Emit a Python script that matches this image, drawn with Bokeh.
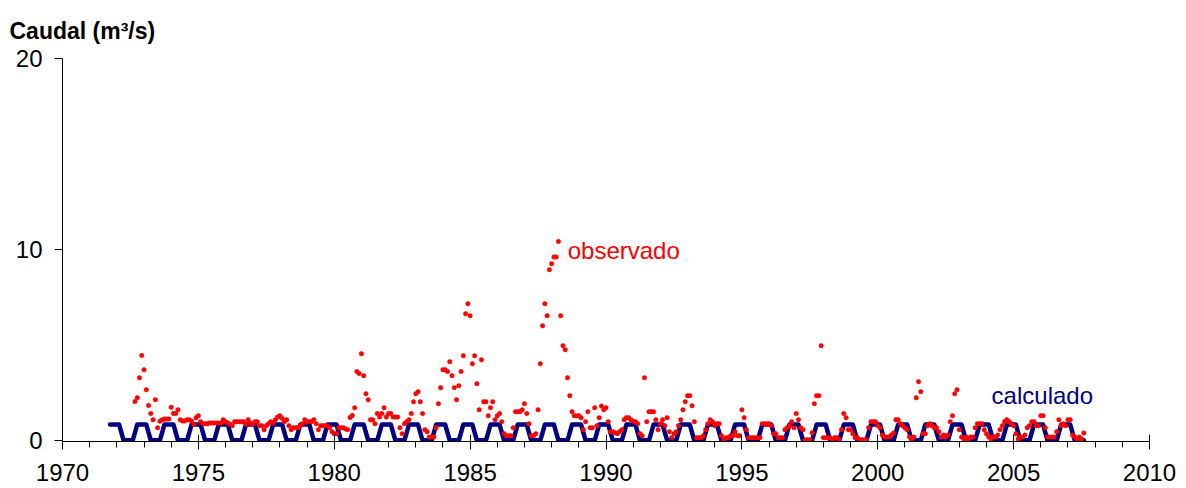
from bokeh.plotting import figure
from bokeh.models import Range1d, FixedTicker, Label
from bokeh.embed import file_html
from bokeh.resources import INLINE

# ---- data ----
# observed monthly flow (m3/s), starting September 1972
obs_start_year = 1972
obs_start_month = 9
observed = [
    2.03, 2.23, 3.28, 4.45, 3.70, 2.65, 1.83, 1.40, 1.08, 2.13, 0.66, 1.00,
    1.08, 1.12, 1.12, 1.12, 1.73, 1.41, 1.41, 1.60, 1.08, 1.01, 1.01, 1.08,
    1.08, 1.01, 0.84, 1.19, 1.29, 0.98, 0.87, 0.87, 0.87, 0.91, 0.91, 0.91,
    0.91, 0.91, 0.91, 1.08, 0.98, 0.91, 0.84, 0.77, 0.98, 0.98, 0.98, 0.98,
    0.98, 0.84, 1.08, 0.91, 0.84, 0.98, 0.98, 0.77, 0.77, 0.56, 0.77, 0.87,
    0.98, 0.91, 1.08, 1.22, 1.29, 1.15, 0.98, 1.08, 0.77, 0.56, 0.66, 0.66,
    0.66, 0.77, 0.87, 1.08, 0.98, 0.98, 0.98, 1.08, 0.87, 0.56, 0.77, 0.77,
    0.77, 0.77, 0.66, 0.45, 0.35, 0.35, 0.66, 0.66, 0.66, 0.60, 0.56, 1.20,
    1.30, 1.71, 3.60, 3.50, 4.54, 3.39, 2.44, 2.13, 1.08, 1.08, 0.87, 1.40,
    1.22, 1.40, 1.71, 1.22, 1.40, 1.40, 1.22, 1.22, 1.22, 0.66, 0.35, 0.87,
    0.98, 1.08, 1.40, 2.02, 2.44, 2.55, 2.02, 1.40, 0.56, 0.45, 0.17, 0.17,
    0.17, 0.66, 1.92, 2.76, 3.70, 3.70, 3.60, 4.12, 3.39, 2.76, 2.13, 2.86,
    3.60, 4.43, 6.63, 7.16, 6.53, 4.01, 4.43, 2.97, 1.60, 4.22, 2.02, 2.02,
    1.29, 1.71, 2.02, 1.08, 1.29, 1.40, 0.98, 0.35, 0.24, 0.24, 0.24, 0.66,
    1.50, 1.50, 1.50, 1.60, 1.92, 1.40, 0.87, 0.24, 0.24, 0.35, 1.60, 4.01,
    6.00, 7.16, 6.53, 8.94, 9.25, 9.60, 9.60, 10.42, 6.53, 4.96, 4.75, 3.28,
    2.34, 1.50, 1.29, 1.29, 1.29, 1.19, 0.56, 0.98, 1.50, 0.66, 0.66, 1.71,
    0.77, 1.19, 1.80, 1.60, 1.71, 0.98, 0.45, 0.45, 0.40, 0.35, 0.45, 0.56,
    1.08, 1.19, 1.19, 1.08, 1.00, 0.98, 0.87, 0.35, 0.24, 3.28, 0.98, 1.50,
    1.50, 1.50, 1.08, 0.56, 0.87, 1.08, 0.77, 1.19, 0.45, 0.14, 0.35, 0.45,
    0.77, 1.08, 1.60, 2.02, 2.34, 2.34, 1.81, 0.98, 0.14, 0.14, 0.14, 0.24,
    0.56, 0.87, 1.08, 0.98, 0.77, 0.87, 0.87, 0.24, 0.03, 0.14, 0.14, 0.24,
    0.24, 0.45, 0.24, 0.24, 1.60, 1.19, 0.56, 0.14, 0.14, 0.14, 0.14, 0.14,
    0.14, 0.87, 0.87, 0.87, 0.87, 0.77, 0.35, 0.35, 0.14, 0.14, 0.14, 0.56,
    0.66, 0.77, 0.98, 0.66, 1.40, 1.08, 0.66, 0.56, 0.03, 0.03, 0.03, 0.40,
    1.92, 2.34, 2.34, 4.96, 0.14, 0.14, 0.14, 0.14, 0.03, 0.14, 0.14, 0.03,
    0.56, 1.40, 1.19, 0.56, 0.56, 0.35, 0.14, 0.14, 0.03, 0.03, 0.03, 0.03,
    0.66, 0.98, 0.98, 0.98, 0.77, 0.66, 0.28, 0.17, 0.17, 0.17, 0.28, 0.38,
    1.08, 1.08, 0.87, 0.77, 0.66, 0.56, 0.17, 0.07, 0.17, 2.23, 3.07, 2.55,
    0.35, 0.35, 0.77, 0.87, 0.77, 0.66, 0.66, 0.45, 0.17, 0.28, 0.17, 0.28,
    0.98, 1.29, 2.44, 2.65, 0.56, 0.17, 0.07, 0.17, 0.07, 0.17, 0.17, 0.66,
    0.87, 0.87, 0.87, 0.56, 0.35, 0.17, 0.07, 0.17, 0.17, 0.28, 0.56, 0.77,
    0.98, 1.08, 0.98, 0.87, 0.77, 0.35, 0.07, 0.17, 0.17, 0.28, 0.66, 0.77,
    0.98, 0.98, 0.77, 0.77, 1.29, 1.29, 0.66, 0.17, 0.17, 0.17, 0.17, 0.45,
    1.08, 0.77, 0.87, 0.77, 1.08, 1.08, 0.28, 0.17, 0.07, 0.17, 0.07, 0.38,
]

# calculated flow: the same annual cycle every year (Jan..Dec), Oct 1971 - Aug 2007
calc_cycle = [0.83, 0.83, 0.40, 0.0, 0.0, 0.0, 0.0, 0.0, 0.40, 0.83, 0.83, 0.83]
calc_start = (1971, 10)
calc_end = (2007, 8)

x_major = [1970, 1975, 1980, 1985, 1990, 1995, 2000, 2005, 2010]
x_minor = list(range(1970, 2011))
y_major = [0, 10, 20]

# ---- derived series ----
obs_t = [obs_start_year + (obs_start_month - 1 + k) / 12 for k in range(len(observed))]
calc_t, calc_v = [], []
y, m = calc_start
while (y, m) <= calc_end:
    calc_t.append(y + (m - 1) / 12)
    calc_v.append(calc_cycle[m - 1])
    m += 1
    if m > 12:
        m = 1
        y += 1

FONT = "Liberation Sans"

p = figure(width=1180, height=488,
           x_range=Range1d(1970, 2010), y_range=Range1d(-0.06, 20),
           output_backend="svg", toolbar_location=None,
           title="Caudal (m\u00b3/s)",
           min_border_left=62, min_border_right=31,
           min_border_top=58, min_border_bottom=47)
p.background_fill_color = "white"
p.border_fill_color = "white"
p.outline_line_color = None
p.xgrid.grid_line_color = None
p.ygrid.grid_line_color = None

p.title.align = "left"
p.title.offset = -53
p.title.standoff = 30
p.title.text_font = FONT
p.title.text_font_style = "bold"
p.title.text_font_size = "23px"
p.title.text_color = "black"

p.line(calc_t, calc_v, line_color="#000080", line_width=4.5,
       line_join="round", line_cap="round")
p.scatter(obs_t, observed, size=4.5, fill_color="#FF0000", line_color="#FF0000",
          line_width=0.5)

xa = p.xaxis[0]
xa.ticker = FixedTicker(ticks=x_major, minor_ticks=x_minor)
xa.axis_line_color = "black"
xa.major_tick_line_color = "black"
xa.minor_tick_line_color = "black"
xa.major_tick_in = 7
xa.major_tick_out = 8
xa.minor_tick_in = 0
xa.minor_tick_out = 6
xa.major_label_standoff = 14
xa.major_label_text_font = FONT
xa.major_label_text_font_size = "24px"
xa.major_label_text_color = "black"

ya = p.yaxis[0]
ya.ticker = FixedTicker(ticks=y_major)
ya.axis_line_color = "black"
ya.major_tick_line_color = "black"
ya.minor_tick_line_color = None
ya.major_tick_in = 0
ya.major_tick_out = 8
ya.major_label_standoff = 12
ya.major_label_text_font = FONT
ya.major_label_text_font_size = "24px"
ya.major_label_text_color = "black"

p.add_layout(Label(x=1988.59, y=9.93, text="observado",
                   text_font=FONT, text_font_size="24px", text_color="#FF0000",
                   text_baseline="alphabetic", text_align="left"))
p.add_layout(Label(x=2004.19, y=2.34, text="calculado",
                   text_font=FONT, text_font_size="24px", text_color="#000080",
                   text_baseline="alphabetic", text_align="left"))

open("out.html", "w").write(file_html(p, INLINE))
